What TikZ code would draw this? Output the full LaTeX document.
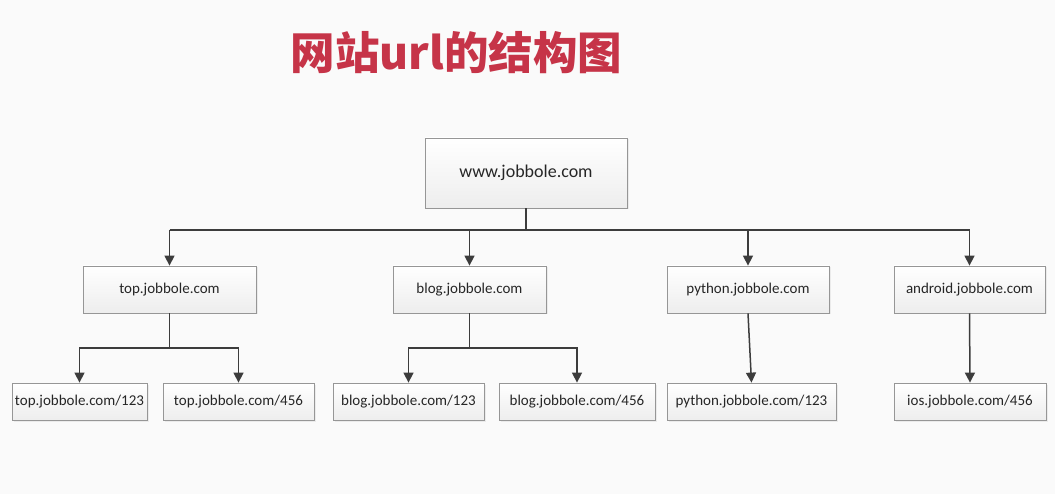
\documentclass[tikz,border=0pt]{standalone}
\usepackage{fontspec}
\setmainfont{Carlito}
\newfontfamily\cjk{Noto Sans CJK SC}
\usetikzlibrary{arrows.meta,shadows}
\definecolor{titlered}{RGB}{198,52,72}
\definecolor{linec}{RGB}{60,60,60}
\definecolor{boxline}{RGB}{150,150,150}
\definecolor{bg}{RGB}{250,250,250}
\tikzset{
  urlbox/.style={draw=boxline, line width=0.8pt, top color=white, bottom color=gray!14,
    drop shadow={opacity=0.12, shadow xshift=1.5pt, shadow yshift=-1.5pt},
    inner sep=0pt, font=\fontsize{15}{17}\selectfont, text=black!85},
  lvl1/.style={urlbox, minimum height=47pt},
  lvl2/.style={urlbox, minimum height=37pt},
  conn/.style={draw=linec, line width=1.5pt},
  arr/.style={conn, -{Triangle[length=10pt,width=10pt]}},
}
\begin{document}
\begin{tikzpicture}[x=1pt,y=-1pt]
\useasboundingbox[fill=bg] (0,0) rectangle (1055,494);
\node[text=titlered, font=\cjk\bfseries\fontsize{44.5}{48}\selectfont] (title) at (456.5,53) {网站url的结构图};

\node[urlbox, minimum width=202pt, minimum height=70pt, font=\fontsize{18}{20}\selectfont] (root) at (526,173) {www.jobbole.com};

\node[lvl1, minimum width=173pt] (top) at (169.5,289.5) {top.jobbole.com};
\node[lvl1, minimum width=153pt] (blog) at (469.5,289.5) {blog.jobbole.com};
\node[lvl1, minimum width=162pt] (python) at (748,289.5) {python.jobbole.com};
\node[lvl1, minimum width=151pt] (android) at (969.5,289.5) {android.jobbole.com};

\node[lvl2, minimum width=135pt] (t1) at (79.5,401.5) {top.jobbole.com/123};
\node[lvl2, minimum width=151pt] (t2) at (238.5,401.5) {top.jobbole.com/456};
\node[lvl2, minimum width=151pt] (b1) at (408.5,401.5) {blog.jobbole.com/123};
\node[lvl2, minimum width=156pt] (b2) at (577,401.5) {blog.jobbole.com/456};
\node[lvl2, minimum width=169pt] (p1) at (751.5,401.5) {python.jobbole.com/123};
\node[lvl2, minimum width=152pt] (i1) at (970,401.5) {ios.jobbole.com/456};

\coordinate (j0) at (526,230);
\coordinate (jt) at (169.5,348);
\coordinate (jb) at (469.5,348);

\draw[conn] (root.south) -- (j0);
\draw[conn] (top.north |- j0) -- (android.north |- j0);
\draw[arr] (top.north |- j0) -- (top.north);
\draw[arr] (blog.north |- j0) -- (blog.north);
\draw[arr] (python.north |- j0) -- (python.north);
\draw[arr] (android.north |- j0) -- (android.north);

\draw[conn] (top.south) -- (jt);
\draw[arr] (jt) -| (t1.north);
\draw[arr] (jt) -| (t2.north);
\draw[conn] (blog.south) -- (jb);
\draw[arr] (jb) -| (b1.north);
\draw[arr] (jb) -| (b2.north);
\draw[arr] (python.south) -- (p1.north);
\draw[arr] (android.south) -- (i1.north);
\end{tikzpicture}
\end{document}
